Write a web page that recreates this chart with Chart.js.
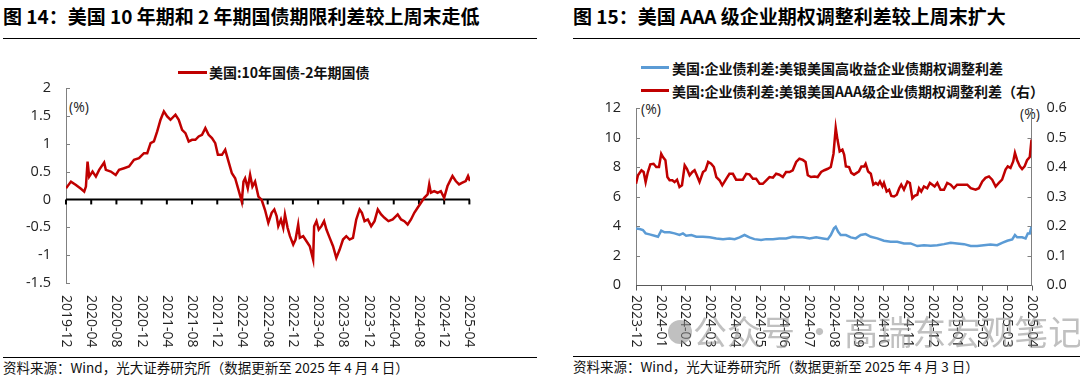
<!DOCTYPE html>
<html><head><meta charset="utf-8">
<script src="https://cdn.jsdelivr.net/npm/chart.js@4.4.1/dist/chart.umd.min.js"></script>
<style>
html,body{margin:0;padding:0;background:#fff;}
body{width:1080px;height:378px;position:relative;overflow:hidden;font-family:"Noto Sans CJK SC","Noto Sans",sans-serif;color:#000;}
.t{position:absolute;white-space:nowrap;line-height:1;}
.title{font-size:19px;font-weight:bold;}
.rule{position:absolute;height:0;border-top:1.5px solid #000;}
.foot{font-size:13.5px;color:#111;}
.leg{font-size:14px;font-weight:bold;color:#111;}
.sw{position:absolute;height:3px;}
.unit{font-family:"Open Sans",sans-serif;font-size:14px;color:#222;}
canvas{position:absolute;top:0;}
.wm{position:absolute;white-space:nowrap;line-height:1;font-size:34px;color:rgba(140,140,140,0.55);}
</style></head><body>

<div class="t title" style="left:3px;top:6px;">图 14：美国 10 年期和 2 年期国债期限利差较上周末走低</div>
<div class="rule" style="left:3px;top:38px;width:534px;"></div>
<div class="sw" style="left:178px;top:71px;width:29px;background:#C00000;"></div>
<div class="t leg" style="left:209px;top:65px;">美国:10年国债-2年期国债</div>
<div class="t unit" style="left:69px;top:100px;">(%)</div>
<div class="rule" style="left:3px;top:357px;width:534px;"></div>
<div class="t foot" style="left:3px;top:361px;">资料来源：Wind，光大证券研究所（数据更新至 2025 年 4 月 4 日）</div>

<div class="t title" style="left:573px;top:6px;">图 15：美国 AAA 级企业期权调整利差较上周末扩大</div>
<div class="rule" style="left:573px;top:38px;width:507px;"></div>
<div class="sw" style="left:641px;top:66px;width:28px;background:#5B9BD5;"></div>
<div class="t leg" style="left:672px;top:61px;">美国:企业债利差:美银美国高收益企业债期权调整利差</div>
<div class="sw" style="left:641px;top:89px;width:28px;background:#C00000;"></div>
<div class="t leg" style="left:672px;top:84px;">美国:企业债利差:美银美国AAA级企业债期权调整利差（右）</div>
<div class="t unit" style="left:641px;top:102px;">(%)</div>
<div class="t unit" style="left:1020px;top:107px;">(%)</div>
<div class="rule" style="left:573px;top:356px;width:507px;"></div>
<div class="t foot" style="left:573px;top:360px;">资料来源：Wind，光大证券研究所（数据更新至 2025 年 4 月 3 日）</div>

<canvas id="cL" width="540" height="378" style="left:0;"></canvas>
<canvas id="cR" width="540" height="378" style="left:540px;"></canvas>

<div class="wm" style="left:693px;top:314px;">公众号 · 高瑞东宏观笔记</div>
<div style="position:absolute;left:668px;top:320px;width:24px;height:24px;border-radius:50%;background:rgba(140,140,140,0.55);"></div>

<script>
// ---------- Chart 14 data (x = months since 2019-12) ----------
const leftTickLabels = ['2019-12','2020-04','2020-08','2020-12','2021-04','2021-08','2021-12','2022-04','2022-08','2022-12','2023-04','2023-08','2023-12','2024-04','2024-08','2024-12','2025-04'];
const spreadMonths = [0,0.79,1.58,2.37,2.89,3.16,3.42,3.68,4.21,4.74,5.26,6.05,6.32,7.11,7.89,8.42,9.21,10.0,10.79,11.58,12.37,12.89,13.42,13.95,14.47,15.0,15.53,16.05,16.58,17.37,17.89,18.42,18.95,19.47,20.0,20.53,21.05,21.58,22.11,22.63,23.16,23.68,24.1,24.74,25.26,25.79,26.32,26.84,27.37,27.89,28.16,28.42,28.84,29.21,29.58,30.0,30.53,31.05,31.58,32.1,32.63,33.05,33.42,33.68,34.1,34.47,34.74,35.16,35.53,36.05,36.42,36.84,37.1,37.63,38.16,38.68,39.21,39.37,39.74,40.1,40.53,40.95,41.32,41.84,42.37,42.89,43.42,43.95,44.47,45.0,45.53,46.05,46.58,46.95,47.37,47.89,48.42,48.95,49.47,50.0,50.53,51.16,51.84,52.63,53.16,53.68,54.21,54.74,55.26,55.79,56.32,56.84,57.37,57.63,57.89,58.42,58.95,59.47,60.0,60.53,61.05,61.32,61.84,62.37,62.89,63.42,63.79,64.1];
const spread10y2y = [0.20,0.32,0.26,0.19,0.14,0.23,0.68,0.41,0.50,0.41,0.53,0.66,0.53,0.50,0.44,0.53,0.56,0.59,0.71,0.74,0.83,0.83,1.01,1.04,1.22,1.43,1.58,1.49,1.43,1.52,1.43,1.25,1.19,1.04,1.07,1.07,1.13,1.16,1.28,1.16,1.10,1.01,0.80,0.80,0.89,0.68,0.47,0.38,0.17,-0.04,0.32,0.38,0.20,0.44,0.23,0.32,0.05,-0.01,-0.19,-0.42,-0.24,-0.18,-0.30,-0.48,-0.36,-0.51,-0.27,-0.51,-0.66,-0.81,-0.72,-0.45,-0.69,-0.66,-0.75,-0.84,-1.08,-0.48,-0.39,-0.54,-0.48,-0.39,-0.54,-0.69,-0.84,-1.05,-0.90,-0.72,-0.66,-0.72,-0.69,-0.36,-0.18,-0.24,-0.39,-0.36,-0.48,-0.39,-0.18,-0.27,-0.33,-0.39,-0.36,-0.27,-0.36,-0.39,-0.45,-0.36,-0.24,-0.15,-0.06,0.03,0.09,0.27,0.12,0.15,0.12,0.15,0.03,0.24,0.36,0.42,0.33,0.27,0.30,0.33,0.42,0.33];

// ---------- Chart 15 data (x = months since 2023-12) ----------
const rightTickLabels = ['2023-12','2024-01','2024-02','2024-03','2024-04','2024-05','2024-06','2024-07','2024-08','2024-09','2024-10','2024-11','2024-12','2025-01','2025-02','2025-03','2025-04'];
const hyMonths = [0,0.15,0.28,0.39,0.55,0.75,0.89,1.02,1.16,1.36,1.56,1.76,1.90,2.03,2.24,2.44,2.71,2.98,3.25,3.52,3.78,3.99,4.19,4.39,4.59,4.79,5.06,5.27,5.54,5.80,6.07,6.34,6.55,6.75,7.02,7.29,7.56,7.76,7.88,8.01,8.08,8.18,8.28,8.49,8.69,8.89,9.09,9.29,9.50,9.76,10.03,10.30,10.57,10.84,11.11,11.38,11.65,11.92,12.19,12.46,12.73,12.99,13.27,13.54,13.80,14.07,14.34,14.61,14.81,15.02,15.22,15.33,15.42,15.62,15.76,15.85,15.93,16.0];
const hyOAS = [3.84,3.80,3.73,3.50,3.43,3.34,3.27,3.68,3.57,3.57,3.50,3.39,3.50,3.34,3.39,3.27,3.27,3.23,3.16,3.11,3.16,3.11,3.23,3.39,3.23,3.11,3.05,3.11,3.11,3.16,3.16,3.27,3.23,3.23,3.16,3.23,3.16,3.11,3.39,3.84,3.95,3.61,3.39,3.39,3.23,3.16,3.39,3.45,3.27,3.16,3.00,2.93,2.93,2.82,2.82,2.64,2.70,2.66,2.70,2.77,2.86,2.82,2.77,2.64,2.64,2.70,2.75,2.70,2.86,3.00,3.09,3.39,3.23,3.23,3.16,3.50,3.50,3.95];
const aaaMonths = [0,0.08,0.22,0.31,0.39,0.48,0.58,0.71,0.82,0.93,1.02,1.09,1.19,1.27,1.36,1.47,1.56,1.66,1.76,1.86,1.97,2.06,2.17,2.28,2.37,2.46,2.57,2.71,2.81,2.92,3.04,3.15,3.25,3.38,3.49,3.65,3.78,3.92,4.05,4.19,4.32,4.46,4.59,4.73,4.86,5.0,5.13,5.27,5.40,5.54,5.67,5.80,5.94,6.07,6.21,6.34,6.48,6.61,6.75,6.86,6.95,7.08,7.22,7.35,7.49,7.62,7.76,7.88,7.99,8.08,8.15,8.24,8.35,8.42,8.49,8.62,8.71,8.82,8.93,9.02,9.12,9.23,9.29,9.39,9.50,9.60,9.70,9.79,9.87,9.97,10.03,10.14,10.24,10.33,10.44,10.55,10.65,10.73,10.84,10.98,11.08,11.18,11.27,11.38,11.45,11.54,11.65,11.78,11.89,11.99,12.08,12.19,12.32,12.46,12.59,12.73,12.86,12.99,13.20,13.40,13.54,13.74,13.87,14.01,14.14,14.28,14.41,14.55,14.68,14.81,14.95,15.04,15.15,15.26,15.33,15.42,15.53,15.62,15.72,15.82,15.93,16.0];
const aaaOAS = [0.343,0.372,0.389,0.383,0.349,0.383,0.409,0.411,0.400,0.400,0.445,0.434,0.423,0.366,0.355,0.355,0.349,0.357,0.332,0.338,0.406,0.394,0.372,0.383,0.389,0.372,0.349,0.383,0.389,0.417,0.411,0.400,0.366,0.355,0.338,0.360,0.377,0.377,0.357,0.357,0.357,0.377,0.375,0.360,0.360,0.343,0.343,0.355,0.366,0.364,0.377,0.374,0.366,0.383,0.383,0.389,0.417,0.428,0.424,0.417,0.372,0.366,0.368,0.366,0.383,0.389,0.394,0.400,0.445,0.533,0.493,0.453,0.459,0.442,0.402,0.400,0.380,0.374,0.380,0.385,0.402,0.402,0.411,0.385,0.377,0.340,0.346,0.340,0.351,0.334,0.346,0.317,0.323,0.302,0.300,0.306,0.328,0.340,0.323,0.351,0.346,0.294,0.302,0.306,0.328,0.317,0.334,0.328,0.346,0.340,0.334,0.346,0.323,0.323,0.346,0.340,0.328,0.340,0.340,0.340,0.328,0.323,0.328,0.351,0.363,0.368,0.357,0.334,0.346,0.357,0.391,0.402,0.397,0.419,0.448,0.423,0.402,0.393,0.402,0.423,0.434,0.493];

const RED = '#C00000', BLUE = '#5B9BD5';
const tickFont = {family:'"Open Sans", sans-serif', size:14.5};
const xLabelFont = '14px "Open Sans", sans-serif';

function pts(xs, ys){ return xs.map((m,i)=>({x:m, y:ys[i]})); }

function drawRotatedLabels(ctx, xs, labels, values, top){
  ctx.save();
  ctx.font = xLabelFont; ctx.fillStyle = '#222';
  ctx.textAlign = 'left'; ctx.textBaseline = 'middle';
  labels.forEach((lab, i) => {
    const px = xs.getPixelForValue(values[i]);
    ctx.save(); ctx.translate(px, top); ctx.rotate(Math.PI/2);
    ctx.fillText(lab, 0, 0); ctx.restore();
  });
  ctx.restore();
}

function yInnerTicks(ctx, scale, x, dir, color){
  ctx.save(); ctx.strokeStyle = color; ctx.lineWidth = 1;
  scale.ticks.forEach(t => {
    const py = Math.round(scale.getPixelForValue(t.value)) + 0.5;
    ctx.beginPath(); ctx.moveTo(x, py); ctx.lineTo(x + dir*4, py); ctx.stroke();
  });
  ctx.restore();
}

// ---------- Chart 14 ----------
const leftDecor = {
  id: 'leftDecor',
  beforeDatasetsDraw(chart){
    const {ctx, chartArea:a, scales:{x, y}} = chart;
    yInnerTicks(ctx, y, a.left, 1, '#808080');
    const y0 = y.getPixelForValue(0);
    ctx.save(); ctx.strokeStyle = '#000'; ctx.lineWidth = 2;
    ctx.beginPath(); ctx.moveTo(a.left, y0); ctx.lineTo(a.right, y0); ctx.stroke();
    leftTickLabels.forEach((l, i) => {
      const px = x.getPixelForValue(i*4);
      ctx.beginPath(); ctx.moveTo(px, y0); ctx.lineTo(px, y0 + 5); ctx.stroke();
    });
    ctx.restore();
  },
  afterDraw(chart){
    drawRotatedLabels(chart.ctx, chart.scales.x, leftTickLabels, leftTickLabels.map((l,i)=>i*4), 295);
  }
};

new Chart(document.getElementById('cL'), {
  type: 'line',
  data: { datasets: [{ label: '美国:10年国债-2年期国债', data: pts(spreadMonths, spread10y2y),
    borderColor: RED, borderWidth: 2.5, pointRadius: 0, tension: 0, fill: false }] },
  options: {
    responsive: false, animation: false, devicePixelRatio: 1,
    layout: { padding: { left: 0, right: 70, top: 88, bottom: 95 } },
    plugins: { legend: { display: false }, tooltip: { enabled: false } },
    scales: {
      x: { type: 'linear', min: 0, max: 64.1, display: false },
      y: { min: -1.5, max: 2,
        ticks: { stepSize: 0.5, padding: 15, color: '#222', font: tickFont,
          callback: v => String(Number(Number(v).toFixed(1))) },
        grid: { display: false, drawTicks: false },
        border: { display: true, color: '#808080', width: 1 },
        afterFit(s){ s.width = 66; } }
    }
  },
  plugins: [leftDecor]
});

// ---------- Chart 15 ----------
const rightDecor = {
  id: 'rightDecor',
  beforeDatasetsDraw(chart){
    const {ctx, chartArea:a, scales:{x, y, y1}} = chart;
    yInnerTicks(ctx, y, a.left, 1, '#808080');
    yInnerTicks(ctx, y1, a.right, -1, '#808080');
    const yb = Math.round(a.bottom) + 0.5;
    ctx.save(); ctx.strokeStyle = '#595959'; ctx.lineWidth = 1;
    ctx.beginPath(); ctx.moveTo(a.left, yb); ctx.lineTo(a.right, yb); ctx.stroke();
    rightTickLabels.forEach((l, i) => {
      const px = Math.round(x.getPixelForValue(i)) + 0.5;
      ctx.beginPath(); ctx.moveTo(px, yb); ctx.lineTo(px, yb + 5); ctx.stroke();
    });
    ctx.restore();
  },
  afterDraw(chart){
    drawRotatedLabels(chart.ctx, chart.scales.x, rightTickLabels, rightTickLabels.map((l,i)=>i), 295);
  }
};

new Chart(document.getElementById('cR'), {
  type: 'line',
  data: { datasets: [
    { label: '美国:企业债利差:美银美国高收益企业债期权调整利差', data: pts(hyMonths, hyOAS), yAxisID: 'y',
      borderColor: BLUE, borderWidth: 2.5, pointRadius: 0, tension: 0, fill: false },
    { label: '美国:企业债利差:美银美国AAA级企业债期权调整利差（右）', data: pts(aaaMonths, aaaOAS), yAxisID: 'y1',
      borderColor: RED, borderWidth: 2.5, pointRadius: 0, tension: 0, fill: false }
  ] },
  options: {
    responsive: false, animation: false, devicePixelRatio: 1,
    layout: { padding: { left: 0, right: 0, top: 108, bottom: 93 } },
    plugins: { legend: { display: false }, tooltip: { enabled: false } },
    scales: {
      x: { type: 'linear', min: 0, max: 16, display: false },
      y: { position: 'left', min: 0, max: 12,
        ticks: { stepSize: 2, padding: 15, color: '#222', font: tickFont },
        grid: { display: false, drawTicks: false },
        border: { display: true, color: '#808080', width: 1 },
        afterFit(s){ s.width = 96; } },
      y1: { position: 'right', min: 0, max: 0.6,
        ticks: { stepSize: 0.1, padding: 15, color: '#222', font: tickFont, callback: v => Number(v).toFixed(1) },
        grid: { display: false, drawTicks: false },
        border: { display: true, color: '#808080', width: 1 },
        afterFit(s){ s.width = 48.5; } }
    }
  },
  plugins: [rightDecor]
});
</script>
</body></html>
